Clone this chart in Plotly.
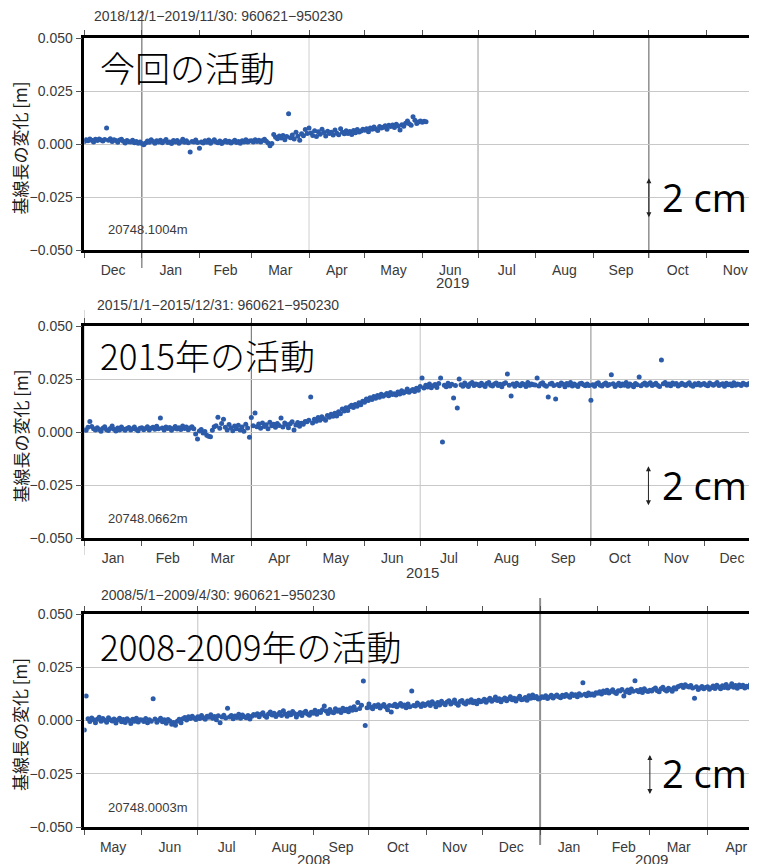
import pandas as pd
import plotly.graph_objects as go

# ---------------- data (baseline change, mm) ----------------
p1_start = "2018-12-01"
p1_mm = (
    # Dec 2018
    [1.2, 2.0, 1.5, 2.3, 1.8, 1.0, 2.2, 1.6, 2.4, 1.9, 1.4, 2.1, 7.5, 1.8, 2.5, 1.2, 2.0, 1.6, 0.8, 1.9,
     2.2, 1.3, 0.5, 1.7, 1.1, 0.9, 1.8, 0.6, 1.2, 0.4, 0.9]
    # Jan 2019
    + [0.2, -0.3, 0.5, 1.4, 0.8, 2.0, 1.2, 0.3, 1.5, 0.9, 1.8, 0.6, 1.3, 2.1, 0.7, 1.0, 0.2, 1.6, 0.9, 1.7,
       0.4, 1.1, 2.2, 0.8, 1.5, 0.6, -3.8, 1.2, 0.9, 1.9, 0.7]
    # Feb
    + [-2.0, 1.0, 0.5, 1.5, 0.8, 1.9, 0.3, 1.2, 2.0, 0.9, 0.6, 1.4, 0.2, 1.0, 1.7, 0.8, 1.3, 0.5, 1.1, 1.8,
       0.7, 1.2, 0.4, 1.5, 1.0, 2.0, 0.9, 1.4]
    # Mar
    + [1.5, 1.0, 2.0, 1.2, 1.8, 0.9, 1.6, 2.2, 1.3, 0.5, -0.8, 0.2, 4.5, 3.2, 2.5, 3.8, 2.8, 4.0, 2.0, 3.5,
       14.3, 3.0, 4.2, 2.4, 5.5, 3.6, 1.8, 4.8, 3.9, 6.8, 5.0]
    # Apr
    + [7.5, 5.2, 4.0, 6.3, 3.5, 5.8, 4.6, 7.0, 5.4, 3.8, 6.0, 4.9, 5.5, 4.2, 6.6, 5.1, 4.4, 7.2, 5.6, 4.8,
       6.2, 5.0, 5.9, 4.5, 6.4, 5.3, 6.8, 5.7, 6.1, 7.0]
    # May
    + [6.5, 7.2, 5.8, 7.6, 6.9, 8.0, 7.1, 6.4, 8.3, 7.5, 7.9, 8.6, 7.0, 8.8, 8.2, 9.0, 7.8, 9.3, 8.5, 6.6,
       9.1, 8.4, 9.8, 10.8, 9.5, 8.9, 12.8, 11.2, 9.7, 10.4, 10.9]
    # Jun (first days)
    + [10.3, 10.7, 10.5]
)

p2_start = "2015-01-01"
p2_mm = (
    [1.0, 0.8, 2.2, 5.0, 2.6, 1.5, 0.9, 2.0, 1.2, 0.4, 1.8, 2.5, 1.1, 0.7, 1.6, 2.8, 1.3, 0.5, 1.9, 1.0,
     2.3, 1.4, 0.8, 1.7, 2.1, 0.9, 1.5, 2.4, 1.2, 0.6, 1.8]
    + [2.0, 1.1, 1.6, 2.5, 0.9, 1.8, 2.2, 1.3, 2.7, 1.5, 6.6, 1.9, 1.0, 2.4, 1.7, 2.1, 0.8, 1.6, 2.6, 1.4,
       2.0, 1.2, 2.8, 1.7, 2.3, 1.1, 1.9, 2.5]
    + [1.5, -1.0, -3.3, 0.5, 1.2, -0.5, 0.2, -1.5, -2.0, -2.2, 0.8, 2.5, 3.0, 7.0, 1.8, 4.0, 6.0, 2.2, 1.0, 3.5,
       2.0, 0.6, 2.8, 1.5, 3.2, 1.0, 2.4, 0.4, 3.6, 1.9, -2.5]
    + [6.8, 3.0, 9.0, 2.5, 3.8, 1.8, 4.2, 2.6, 3.4, 1.5, 4.6, 2.9, 3.7, 2.2, 4.0, 3.1, 6.6, 2.4, 4.3, 3.5,
       2.0, 3.9, 4.8, 1.0, 3.3, 4.5, 2.7, 4.1, 3.6, 5.0]
    + [4.8, 5.5, 16.5, 4.2, 6.0, 5.1, 6.8, 5.6, 7.2, 6.3, 5.5, 7.8, 6.9, 8.4, 7.4, 8.9, 7.5, 9.5, 8.6, 10.8,
       9.9, 11.4, 10.2, 11.9, 12.6, 11.5, 13.0, 12.2, 13.8, 12.9, 14.5]
    + [14.0, 15.6, 14.8, 16.2, 15.3, 16.8, 15.9, 17.2, 16.4, 17.8, 16.9, 17.5, 18.2, 17.1, 18.6, 17.7, 18.1,
       17.4, 18.9, 17.9, 19.5, 18.4, 19.0, 20.3, 18.8, 19.4, 20.0, 19.1, 20.6, 19.7]
    + [21.5, 25.5, 20.8, 22.0, 21.2, 22.6, 20.9, 21.8, 22.4, 21.0, 22.9, 25.5, -4.7, 22.1, 21.4, 23.0, 21.7,
       22.5, 16.0, 21.9, 11.3, 25.0, 22.3, 21.6, 23.1, 22.2, 21.5, 22.8, 23.3, 21.9, 22.6]
    + [22.4, 21.8, 23.0, 22.2, 21.5, 22.9, 23.4, 22.0, 21.7, 22.6, 23.1, 21.9, 22.5, 21.3, 22.8, 23.2, 27.4,
       22.1, 17.0, 22.7, 21.6, 23.0, 22.3, 21.8, 22.9, 22.4, 21.5, 23.3, 22.0, 22.6, 22.3]
    + [22.2, 25.5, 21.7, 22.8, 23.2, 22.0, 21.6, 16.5, 22.7, 23.0, 21.9, 15.6, 22.4, 21.8, 23.1, 22.5, 21.4,
       22.9, 22.2, 23.3, 21.7, 22.6, 22.0, 21.5, 22.8, 23.0, 22.3, 21.8, 22.6, 21.9]
    + [15.0, 22.3, 21.6, 22.8, 23.2, 22.0, 21.7, 22.5, 23.1, 21.9, 22.4, 27.0, 22.8, 21.5, 22.2, 23.0, 21.8,
       22.6, 22.1, 23.3, 21.6, 22.7, 22.0, 21.4, 22.9, 22.3, 26.0, 21.8, 22.5, 23.1, 22.0]
    + [22.6, 23.2, 21.9, 22.4, 23.0, 22.1, 21.5, 34.0, 22.8, 23.3, 22.0, 22.6, 21.8, 23.1, 22.5, 22.9, 21.7,
       22.3, 23.0, 22.4, 21.9, 22.7, 23.2, 22.1, 21.6, 22.8, 22.3, 23.0, 22.0, 22.5]
    + [22.9, 22.2, 21.8, 23.1, 22.5, 22.0, 22.7, 23.3, 21.9, 22.4, 22.8, 21.6, 23.0, 22.3, 22.6, 21.8, 23.2,
       22.1, 22.7, 22.4, 21.9, 23.0, 22.5, 22.2, 22.8, 23.1, 22.0, 22.6, 22.3, 22.9, 23.2]
)

p3_start = "2008-05-01"
p3_mm = (
    [-4.5, 11.5, 0.8, -0.5, 1.2, 0.3, -1.0, 0.6, 1.5, -0.3, 0.9, 0.1, -0.8, 1.3, 0.4, -0.2, 0.7, -1.2, 0.2,
     1.0, -0.6, 0.5, -0.9, 0.8, 0.0, -1.4, 0.6, -0.4, 1.1, -0.7, 0.3]
    + [0.2, -0.5, 0.9, -1.1, 0.4, -0.3, 10.2, 0.7, -0.8, 0.1, 1.0, -0.6, 0.3, -1.3, 0.5, -0.2, -1.8, -0.9,
       -2.2, -0.4, 0.6, -1.0, 0.8, 1.4, 0.2, 1.8, 0.9, 2.0, 1.2, 0.5]
    + [1.8, 0.9, 2.4, 1.3, 0.6, 2.0, 1.5, 2.7, 1.0, 1.9, 0.4, 2.2, -1.0, 1.6, 2.5, 1.2, 5.8, 1.7, 2.3, 0.8,
       2.1, 1.4, 2.9, 1.1, 2.6, 1.8, 1.3, 2.4, 0.7, 2.0, 2.8]
    + [2.5, 3.2, 1.8, 2.9, 3.6, 2.2, 1.5, 3.0, 4.0, 2.6, 3.4, 1.9, 2.8, 3.7, 2.3, 4.6, 3.1, 2.0, 3.5, 2.7,
       4.2, 3.3, 1.7, 2.9, 3.8, 2.4, 3.6, 4.4, 3.0, 2.5, 3.9]
    + [3.4, 4.8, 2.9, 4.2, 3.7, 5.0, 6.8, 4.5, 3.3, 5.2, 4.0, 3.6, 5.5, 4.3, 4.9, 3.8, 5.8, 4.6, 5.3, 4.1,
       5.9, 4.8, 6.4, 5.0, 8.5, 5.6, 7.2, 18.6, -2.4, 6.0]
    + [7.7, 6.2, 5.5, 7.0, 6.6, 7.4, 5.9, 6.8, 7.5, 6.3, 5.1, 7.1, 4.0, 6.9, 7.6, 6.4, 7.2, 8.0, 6.7, 7.3,
       6.0, 7.8, 6.5, 13.8, 7.1, 6.8, 8.2, 7.4, 6.6, 7.9, 7.0]
    + [7.6, 8.3, 7.0, 8.8, 7.9, 6.5, 8.5, 7.3, 9.0, 8.1, 7.4, 8.7, 9.3, 7.8, 8.4, 9.6, 8.0, 7.2, 8.9, 9.4,
       8.2, 7.7, 9.1, 8.6, 9.8, 8.3, 9.0, 7.9, 9.5, 8.8]
    + [9.2, 10.0, 8.6, 9.6, 10.4, 9.0, 9.8, 11.0, 9.4, 10.2, 8.8, 9.9, 10.6, 9.3, 10.1, 11.2, 9.7, 10.5, 9.1,
       10.3, 11.4, 9.8, 10.0, 10.8, 9.5, 11.6, 10.4, 12.0, 10.7, 11.3, 10.1]
    + [10.5, 11.2, 10.8, 11.6, 10.3, 11.0, 11.8, 10.6, 11.4, 12.0, 11.1, 10.7, 11.9, 11.3, 12.2, 11.5, 10.9,
       12.4, 11.7, 12.1, 11.2, 12.6, 11.8, 17.7, 12.3, 11.6, 12.9, 12.0, 12.5, 11.9, 13.0]
    + [12.8, 13.5, 12.4, 13.9, 13.1, 14.2, 12.9, 13.6, 14.4, 13.3, 12.7, 14.0, 13.8, 14.6, 11.5, 13.4, 14.3,
       13.0, 14.8, 13.7, 18.7, 14.1, 13.5, 14.5, 13.2, 14.9, 14.0, 13.6]
    + [14.2, 13.8, 14.7, 15.3, 14.0, 13.5, 14.9, 15.6, 14.4, 13.9, 15.1, 14.6, 13.7, 15.4, 14.8, 15.9, 16.2,
       16.6, 15.5, 16.8, 16.1, 15.7, 16.4, 15.2, 10.5, 15.8, 14.6, 15.3, 16.0, 14.9, 15.5]
    + [15.8, 14.7, 15.4, 16.2, 15.0, 16.6, 15.7, 14.9, 16.3, 15.5, 16.9, 15.2, 16.0, 17.3, 15.6, 16.4, 15.1,
       16.7, 15.9, 16.5, 15.3, 16.1, 15.7, 16.8, 15.4, 16.2, 15.8, 16.0, 15.5, 16.3]
)

titles = ["2018/12/1\u22122019/11/30: 960621\u2212950230",
          "2015/1/1\u22122015/12/31: 960621\u2212950230",
          "2008/5/1\u22122009/4/30: 960621\u2212950230"]
labels = ["今回の活動", "2015年の活動", "2008-2009年の活動"]
base_lengths = ["20748.1004m", "20748.0662m", "20748.0003m"]
x_ranges = [["2018-12-01", "2019-11-28 05:00"],
            ["2015-01-01", "2015-12-29 12:00"],
            ["2008-05-01", "2009-04-27 14:00"]]
year_labels = [[("2019-06-17", "2019")],
               [("2015-07-02", "2015")],
               [("2008-09-01", "2008"), ("2009-03-02", "2009")]]
arrow_dates = ["2019-10-01", "2015-11-01", "2009-03-01"]
arrow_span = [-0.0345, -0.0155]
ylabel = "基線長の変化 [m]"

# vertical reference lines: (date, color, width, top_px_offset, bottom_px_offset)
vlines = [
    [("2019-01-01", "#555555", 1, -28, 18), ("2019-04-01", "#cfcfcf", 1, 0, 0),
     ("2019-07-01", "#9a9a9a", 1, 0, 0), ("2019-10-01", "#555555", 1, 0, 8)],
    [("2015-01-01", "#bdbdbd", 1, -16, 17), ("2015-04-01", "#666666", 1, -4, 0),
     ("2015-07-01", "#c4c4c4", 1, 0, 0), ("2015-10-01", "#8a8a8a", 1, 0, 7)],
    [("2008-07-01", "#c4c4c4", 1, 0, 0), ("2008-10-01", "#c4c4c4", 1, 0, 0),
     ("2009-01-01", "#8f8f8f", 2, -16, 18), ("2009-04-01", "#cfcfcf", 1, 0, 0)],
]

series = [(p1_start, p1_mm), (p2_start, p2_mm), (p3_start, p3_mm)]

# ---------------- layout geometry (target screen pixels) ----------------
W, H = 757, 864
OFF = 8  # page body margin offset of the figure canvas
plot_px = [(38, 250), (326, 538), (614, 827)]   # top, bottom
x_left_px = 84.3
title_y = [16.5, 305, 595]
label_y = [67, 354, 645]
year_y = [283, 572, 859]


def px(x):
    return (x - OFF) / W


def py(y):
    return 1 - (y - OFF) / H


fig = go.Figure()
MARK = "#2b5ba9"
FONT = "Liberation Sans"
TXT = "#3a3a3a"

for i, ((start, vals), (top, bot)) in enumerate(zip(series, plot_px)):
    n = "" if i == 0 else str(i + 1)
    xa, ya = "x" + n, "y" + n
    dates = pd.date_range(start, periods=len(vals), freq="D")
    fig.add_trace(go.Scatter(
        x=dates, y=[v / 1000 for v in vals], mode="markers",
        marker=dict(size=5, color=MARK), xaxis=xa, yaxis=ya, showlegend=False,
        hoverinfo="skip"))

    fig.layout["xaxis" + n] = dict(
        domain=[px(x_left_px), px(757)], anchor=ya, type="date", range=x_ranges[i],
        dtick="M1", tick0="2000-01-01", tickformat="%b", ticklabelmode="period",
        ticks="outside", ticklen=5, tickwidth=1, tickcolor="#555555",
        showline=True, linecolor="black", linewidth=2.5, mirror="ticks",
        showgrid=False, zeroline=False, automargin=False,
        tickfont=dict(family=FONT, size=14, color=TXT))
    fig.layout["yaxis" + n] = dict(
        domain=[py(bot), py(top)], anchor=xa, range=[-0.05, 0.05],
        dtick=0.025, tick0=0, tickformat=".3f",
        ticks="outside", ticklen=6, tickwidth=1, tickcolor="#555555",
        showline=True, linecolor="black", linewidth=2.5, mirror=False,
        showgrid=True, gridcolor="#c8c8c8", gridwidth=1, zeroline=False,
        automargin=False,
        tickfont=dict(family=FONT, size=14, color=TXT))

    for (d, col, wdt, t_off, b_off) in vlines[i]:
        fig.add_shape(type="line", xref=xa, yref="paper", x0=d, x1=d,
                      y0=py(bot + b_off), y1=py(top + t_off),
                      line=dict(color=col, width=wdt), layer="between")

    fig.add_annotation(text=titles[i], xref="paper", yref="paper",
                       x=px(218), y=py(title_y[i]), xanchor="center", yanchor="middle",
                       showarrow=False, font=dict(family=FONT, size=14, color=TXT))
    fig.add_annotation(text=labels[i], xref="paper", yref="paper",
                       x=px(98), y=py(label_y[i]), xanchor="left", yanchor="middle",
                       showarrow=False,
                       font=dict(family="Noto Sans CJK JP", size=35, color="black", weight=300))
    fig.add_annotation(text=base_lengths[i], xref="paper", yref="paper",
                       x=px(106), y=py(bot - 20), xanchor="left", yanchor="middle",
                       showarrow=False, font=dict(family=FONT, size=13, color=TXT))
    fig.add_annotation(text=ylabel, xref="paper", yref="paper", textangle=-90,
                       x=px(19.5), y=py((top + bot) / 2 + 4), xanchor="center", yanchor="middle",
                       showarrow=False,
                       font=dict(family="Noto Sans CJK JP", size=17, color="#1a1a1a"))
    for d, t in year_labels[i]:
        fig.add_annotation(text=t, xref=xa, yref="paper", x=d, y=py(year_y[i]),
                           xanchor="center", yanchor="middle", showarrow=False,
                           font=dict(family=FONT, size=15, color=TXT))
    # 2 cm scale arrow
    fig.add_annotation(text="", xref=xa, yref=ya, axref=xa, ayref=ya,
                       x=arrow_dates[i], y=arrow_span[0], ax=arrow_dates[i], ay=arrow_span[1],
                       showarrow=True, arrowhead=2, startarrowhead=2, arrowside="end+start",
                       arrowsize=1, arrowwidth=1, arrowcolor="#222222", standoff=0, startstandoff=0)
    fig.add_annotation(text="2 cm", xref="paper", yref=ya, x=px(660), y=-0.0248,
                       xanchor="left", yanchor="middle", showarrow=False,
                       font=dict(family="Open Sans", size=38, color="black"))

fig.update_layout(width=W, height=H, autosize=False,
                  margin=dict(l=0, r=0, t=0, b=0, autoexpand=False),
                  paper_bgcolor="white", plot_bgcolor="white")

fig.write_html("out.html")
